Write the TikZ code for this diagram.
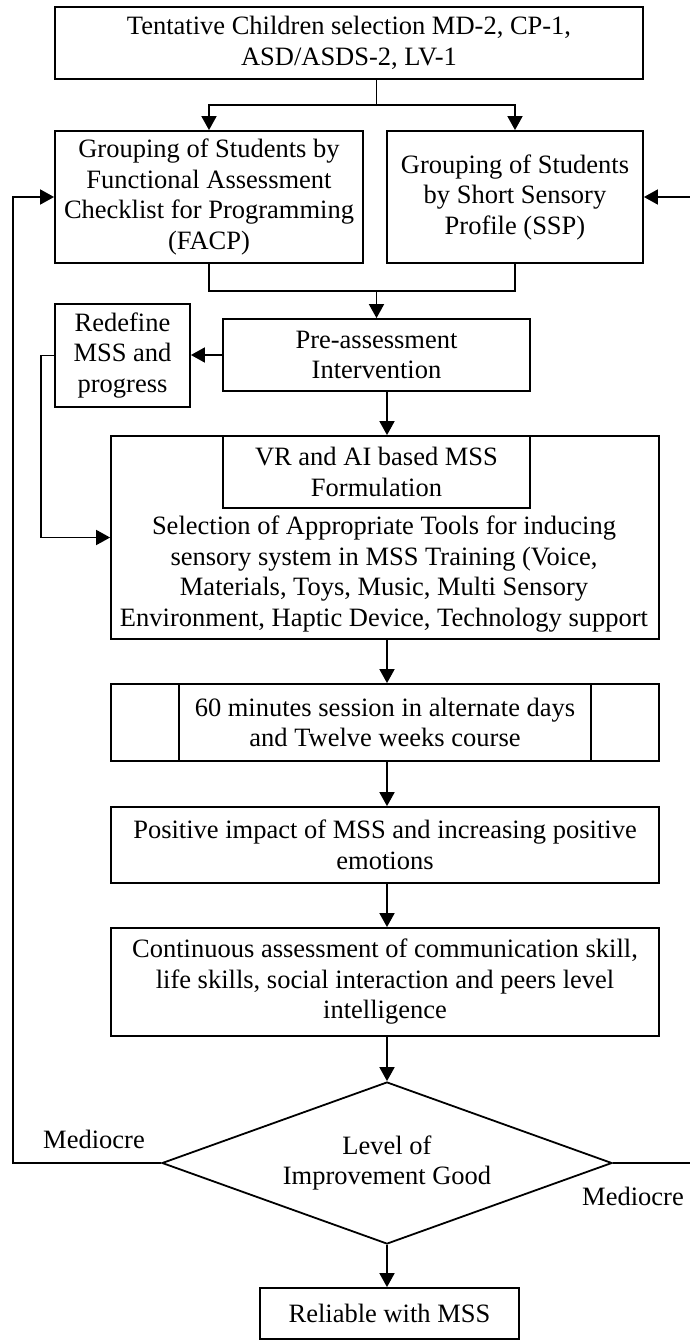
\documentclass[tikz,border=0pt]{standalone}
\usepackage{fontspec}
\setmainfont{Liberation Serif}
\usetikzlibrary{shapes.geometric,arrows.meta}
\newcommand\fsz{\fontsize{26.5}{30.5}\selectfont}
\tikzset{
  box/.style={draw, line width=1.8pt, inner sep=0pt, align=center, font=\fsz},
  plain/.style={inner sep=0pt, align=center, font=\fsz},
  conn/.style={line width=1.8pt},
  arr/.style={line width=1.8pt, -{Triangle[length=14pt,width=15pt]}},
}
\begin{document}
\begin{tikzpicture}[x=1pt,y=-1pt]
\useasboundingbox (0,0) rectangle (689,1341);
% nodes
\node[box, minimum width=588pt, minimum height=72pt] (top) at (349,43)
  {Tentative Children selection MD-2, CP-1,\\ASD/ASDS-2, LV-1};
\node[box, minimum width=308pt, minimum height=132pt] (facp) at (209,197)
  {Grouping of Students by\\Functional Assessment\\Checklist for Programming\\(FACP)};
\node[box, minimum width=256pt, minimum height=132pt] (ssp) at (515,197)
  {Grouping of Students\\by Short Sensory\\Profile (SSP)};
\node[box, minimum width=307pt, minimum height=72pt] (pre) at (376.5,355)
  {Pre-assessment\\Intervention};
\node[box, minimum width=135pt, minimum height=103pt] (redef) at (122.5,355.5)
  {Redefine\\MSS and\\progress};
\node[box, minimum width=548pt, minimum height=203pt] (main) at (385,537.5) {};
\node[box, minimum width=307pt, minimum height=72pt] (vr) at (376.5,472)
  {VR and AI based MSS\\Formulation};
\node[plain] (sel) at (384,574)
  {Selection of Appropriate Tools for inducing\\sensory system in MSS Training (Voice,\\Materials, Toys, Music, Multi Sensory\\Environment, Haptic Device, Technology support};
\node[box, minimum width=548pt, minimum height=77pt] (sixty) at (385,722.5)
  {60 minutes session in alternate days\\and Twelve weeks course};
\draw[conn] ([xshift=69pt]sixty.north west) -- ([xshift=69pt]sixty.south west);
\draw[conn] ([xshift=-69pt]sixty.north east) -- ([xshift=-69pt]sixty.south east);
\node[box, minimum width=548pt, minimum height=76pt] (pos) at (385,845)
  {Positive impact of MSS and increasing positive\\emotions};
\node[box, minimum width=548pt, minimum height=108pt] (cont) at (385,982)
  {Continuous assessment of communication skill,\\life skills, social interaction and peers level\\intelligence};
\node[box, diamond, aspect=2.78, minimum width=450pt, minimum height=162pt] (dec) at (387,1163)
  {Level of\\Improvement Good};
\node[box, minimum width=259pt, minimum height=51pt] (rel) at (389.5,1313.5)
  {Reliable with MSS};
\node[plain] (medl) at (94,1139) {Mediocre};
\node[plain] (medr) at (633,1196) {Mediocre};
% helper coordinates
\coordinate (s1) at (376.5,105);
\coordinate (m1) at (376.5,291);
\coordinate (col) at (387,0);
\coordinate (r1) at (41,0);
\coordinate (lft) at (13,0);
\coordinate (rgt) at (700,0);
% connectors
\draw[conn] (top.south -| s1) -- (s1);
\draw[arr] (s1) -| (facp.north);
\draw[arr] (s1) -| (ssp.north);
\draw[conn] (facp.south) |- (m1) -| (ssp.south);
\draw[arr] (m1) -- (pre.north);
\draw[arr] (pre.west) -- (pre.west -| redef.east);
\draw[arr] (redef.west) -- (redef.west -| r1) -- (r1 |- main.west) -- (main.west);
\draw[arr] (pre.south -| col) -- (main.north -| col);
\draw[arr] (main.south -| col) -- (sixty.north -| col);
\draw[arr] (sixty.south -| col) -- (pos.north -| col);
\draw[arr] (pos.south -| col) -- (cont.north -| col);
\draw[arr] (cont.south -| col) -- (dec.north);
\draw[arr] (dec.south) -- (rel.north -| dec.south);
\draw[arr] (dec.west) -- (dec.west -| lft) -- (lft |- facp.west) -- (facp.west);
\draw[arr] (dec.east) -- (dec.east -| rgt) -- (rgt |- ssp.east) -- (ssp.east);
\end{tikzpicture}
\end{document}
